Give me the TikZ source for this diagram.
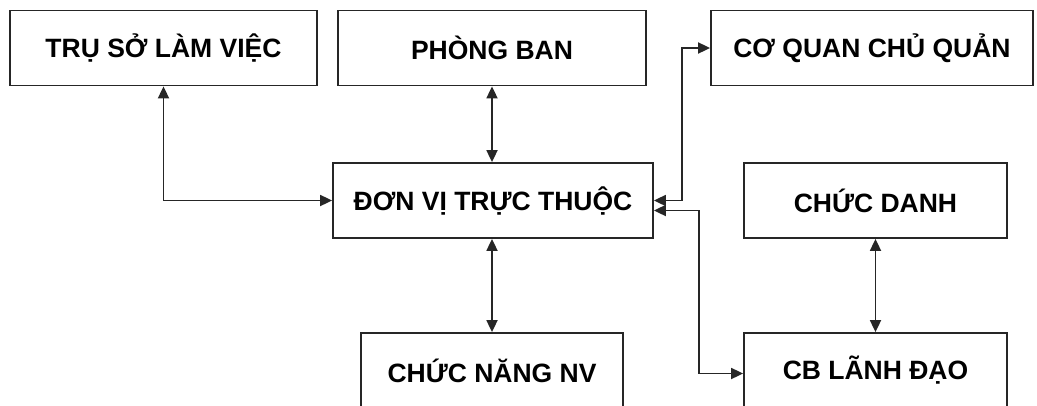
\documentclass[tikz,border=0pt]{standalone}
\usepackage{fontspec}
\setmainfont{Liberation Sans}
\usetikzlibrary{arrows.meta, positioning, calc}

\begin{document}
\begin{tikzpicture}[x=1pt, y=-1pt,
    box/.style={draw=black!85, line width=1.8pt, fill=white, rectangle,
        minimum height=75pt, inner sep=0pt,
        font=\fontsize{26.5}{30}\selectfont\bfseries},
    link/.style={draw=black!85, line width=1.8pt, {Triangle[length=12pt, width=11pt]}-{Triangle[length=12pt, width=11pt]}}]
    % Frame
    \useasboundingbox[fill=white] (0, 0) rectangle (1037, 405);

    % Boxes
    \node[box, minimum width=307pt] (truso)   at (163.5, 48)  {TRỤ SỞ LÀM VIỆC};
    \node[box, minimum width=308pt] (phong)   at (492, 48)    {PHÒNG BAN};
    \node[box, minimum width=322pt] (coquan)  at (872, 48)    {CƠ QUAN CHỦ QUẢN};
    \node[box, minimum width=320pt] (donvi)   at (493, 200.5) {ĐƠN VỊ TRỰC THUỘC};
    \node[box, minimum width=263pt] (chucdanh) at (875.5, 200.5) {CHỨC DANH};
    \node[box, minimum width=262pt] (chucnang) at (492, 370.5) {CHỨC NĂNG NV};
    \node[box, minimum width=263pt] (lanhdao) at (875.5, 370.5) {CB LÃNH ĐẠO};

    % Links
    \draw[link] (truso.south) |- (donvi.west);
    \draw[link] (phong.south) -- (phong.south |- donvi.north);
    \draw[link] (donvi.east) -- ++(28, 0) |- (coquan.west);
    \draw[link] ([yshift=-10pt]donvi.east) -- ++(45, 0) |- ([yshift=-3pt]lanhdao.west);
    \draw[link] (chucnang.north |- donvi.south) -- (chucnang.north);
    \draw[link] (chucdanh.south) -- (lanhdao.north);
\end{tikzpicture}
\end{document}
